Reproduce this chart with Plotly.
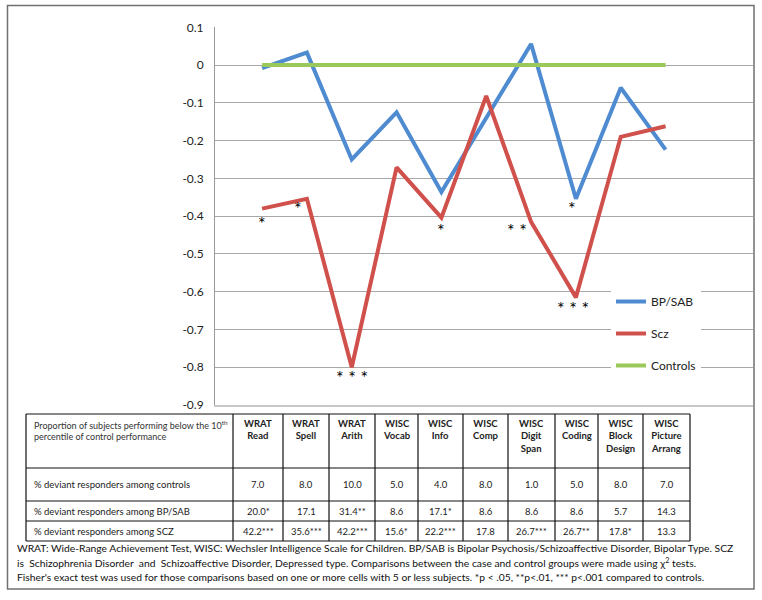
import plotly.graph_objects as go

# ---------------- data ----------------
tests_short = ["WRAT Read", "WRAT Spell", "WRAT Arith", "WISC Vocab", "WISC Info",
               "WISC Comp", "WISC Digit Span", "WISC Coding", "WISC Block Design",
               "WISC Picture Arrang"]
bp_sab = [-0.008, 0.033, -0.25, -0.125, -0.336, -0.14, 0.056, -0.354, -0.06, -0.224]
scz = [-0.38, -0.354, -0.80, -0.271, -0.404, -0.082, -0.415, -0.615, -0.19, -0.162]
controls = [0, 0, 0, 0, 0, 0, 0, 0, 0, 0]

# significance markers (test index, label, y value)
sig_idx = [0, 1, 2, 4, 6, 7, 7]
sig_lbl = ["*", "*", "* * *", "*", "* *", "*", "* * *"]
sig_y = [-0.415, -0.377, -0.824, -0.435, -0.435, -0.377, -0.64]
sig_dx = [0.0, -0.2, 0.0, 0.0, -0.32, -0.08, -0.06]

y_ticks = [0.1, 0, -0.1, -0.2, -0.3, -0.4, -0.5, -0.6, -0.7, -0.8, -0.9]
y_ticktext = ["0.1", "0", "-0.1", "-0.2", "-0.3", "-0.4", "-0.5", "-0.6", "-0.7", "-0.8", "-0.9"]

table_header_label = ("Proportion of subjects performing below the 10<sup>th</sup><br>"
                      "percentile of control performance")
table_headers = ["WRAT<br>Read", "WRAT<br>Spell", "WRAT<br>Arith", "WISC<br>Vocab",
                 "WISC<br>Info", "WISC<br>Comp", "WISC<br>Digit<br>Span",
                 "WISC<br>Coding", "WISC<br>Block<br>Design", "WISC<br>Picture<br>Arrang"]
row_labels = ["% deviant responders among controls",
              "% deviant responders among BP/SAB",
              "% deviant responders among SCZ"]
pct_controls = ["7.0", "8.0", "10.0", "5.0", "4.0", "8.0", "1.0", "5.0", "8.0", "7.0"]
pct_bpsab = ["20.0*", "17.1", "31.4**", "8.6", "17.1*", "8.6", "8.6", "8.6", "5.7", "14.3"]
pct_scz = ["42.2***", "35.6***", "42.2***", "15.6*", "22.2***", "17.8", "26.7***",
           "26.7**", "17.8*", "13.3"]

footnote_lines = [
    "WRAT: Wide-Range Achievement Test, WISC: Wechsler Intelligence Scale for Children. "
    "BP/SAB is Bipolar Psychosis/Schizoaffective Disorder, Bipolar Type. SCZ",
    "is  Schizophrenia Disorder  and  Schizoaffective Disorder, Depressed type. "
    "Comparisons between the case and control groups were made using χ<sup>2</sup> tests.",
    "Fisher's exact test was used for those comparisons based on one or more cells with "
    "5 or less subjects. *p < .05, **p<.01, *** p<.001 compared to controls.",
]

# ---------------- layout geometry ----------------
W, H = 762, 600
FONT = "Lato"
BLUE, RED, GREEN = "#4F8BD0", "#D0504C", "#9BC85A"


def px(x):
    return x / W


def py(y):
    return 1 - y / H


x_idx = list(range(len(tests_short)))

fig = go.Figure()
fig.add_trace(go.Scatter(x=x_idx, y=bp_sab, mode="lines", name="BP/SAB",
                         line=dict(color=BLUE, width=4), legendgroup="a",
                         text=tests_short, hoverinfo="text+y"))
fig.add_trace(go.Scatter(x=x_idx, y=scz, mode="lines", name="Scz",
                         line=dict(color=RED, width=4), legendgroup="b",
                         text=tests_short, hoverinfo="text+y"))
fig.add_trace(go.Scatter(x=x_idx, y=controls, mode="lines", name="Controls",
                         line=dict(color=GREEN, width=4), legendgroup="c",
                         text=tests_short, hoverinfo="text+y"))

annotations = []
for i, lbl, yv, dx in zip(sig_idx, sig_lbl, sig_y, sig_dx):
    annotations.append(dict(x=i + dx, y=yv, xref="x", yref="y", text=lbl,
                            showarrow=False, font=dict(family=FONT, size=18, color="#000000"),
                            yshift=-1))

shapes = []
# outer frame
shapes.append(dict(type="rect", xref="paper", yref="paper", x0=px(7.5), x1=px(754),
                   y0=py(589), y1=py(5.5), line=dict(color="#707070", width=1.5)))

# table grid
col_x = [26, 233, 283, 329, 375, 418, 463, 508, 555, 598, 643, 690]
row_y = [414, 468, 501, 521, 541]
for yy in row_y:
    shapes.append(dict(type="line", xref="paper", yref="paper", x0=px(col_x[0]), x1=px(col_x[-1]),
                       y0=py(yy), y1=py(yy), line=dict(color="#111", width=1.2)))
for xx in col_x:
    shapes.append(dict(type="line", xref="paper", yref="paper", x0=px(xx), x1=px(xx),
                       y0=py(row_y[0]), y1=py(row_y[-1]), line=dict(color="#111", width=1.2)))

tfont = dict(family=FONT, size=9.5, color="#222")
annotations.append(dict(x=px(32), y=py(417), xref="paper", yref="paper", xanchor="left",
                        yanchor="top", align="left", text=table_header_label,
                        showarrow=False, font=dict(family=FONT, size=9, color="#333")))
for j, hdr in enumerate(table_headers):
    cx = (col_x[j + 1] + col_x[j + 2]) / 2
    annotations.append(dict(x=px(cx), y=py(416), xref="paper", yref="paper", xanchor="center",
                            yanchor="top", align="center", text="<b>" + hdr + "</b>",
                            showarrow=False, font=dict(family=FONT, size=9.5, color="#222")))
for r, (lab, vals) in enumerate(zip(row_labels, [pct_controls, pct_bpsab, pct_scz])):
    cy = (row_y[r + 1] + row_y[r + 2]) / 2
    annotations.append(dict(x=px(32), y=py(cy), xref="paper", yref="paper", xanchor="left",
                            yanchor="middle", text=lab, showarrow=False, font=tfont))
    for j, v in enumerate(vals):
        cx = (col_x[j + 1] + col_x[j + 2]) / 2
        annotations.append(dict(x=px(cx), y=py(cy), xref="paper", yref="paper",
                                xanchor="center", yanchor="middle", text=v,
                                showarrow=False, font=tfont))

for k, line in enumerate(footnote_lines):
    annotations.append(dict(x=px(15), y=py(548 + 14.5 * k), xref="paper", yref="paper",
                            xanchor="left", yanchor="middle", text=line, showarrow=False,
                            font=dict(family=FONT, size=10.3, color="#111")))

fig.update_layout(
    width=W, height=H,
    margin=dict(l=0, r=0, t=0, b=0, autoexpand=False),
    paper_bgcolor="white", plot_bgcolor="white",
    font=dict(family=FONT, color="#222"),
    xaxis=dict(domain=[px(215), px(753)], range=[-1.05, 10.95], showticklabels=False,
               showgrid=False, zeroline=False, showline=True, linecolor="#c8c8c8",
               linewidth=2, ticks="", automargin=False),
    yaxis=dict(domain=[py(405), py(27.3)], range=[-0.9, 0.1], tickvals=y_ticks,
               ticktext=y_ticktext, showgrid=True, gridcolor="#a8a8a8", gridwidth=1,
               zeroline=False, showline=True, linecolor="#9a9a9a", linewidth=1,
               ticks="", ticklabelstandoff=8, automargin=False,
               tickfont=dict(family=FONT, size=12, color="#222")),
    legend=dict(x=px(611), y=py(287), xanchor="left", yanchor="top", bgcolor="white",
                font=dict(family=FONT, size=12, color="#222"), traceorder="grouped",
                tracegroupgap=13, itemwidth=30),
    shapes=shapes,
    annotations=annotations,
    showlegend=True,
)

fig.write_html("out.html",
               config={"displayModeBar": False},
               post_script="document.body.style.margin='0';"
                           "document.body.style.overflow='hidden';")
